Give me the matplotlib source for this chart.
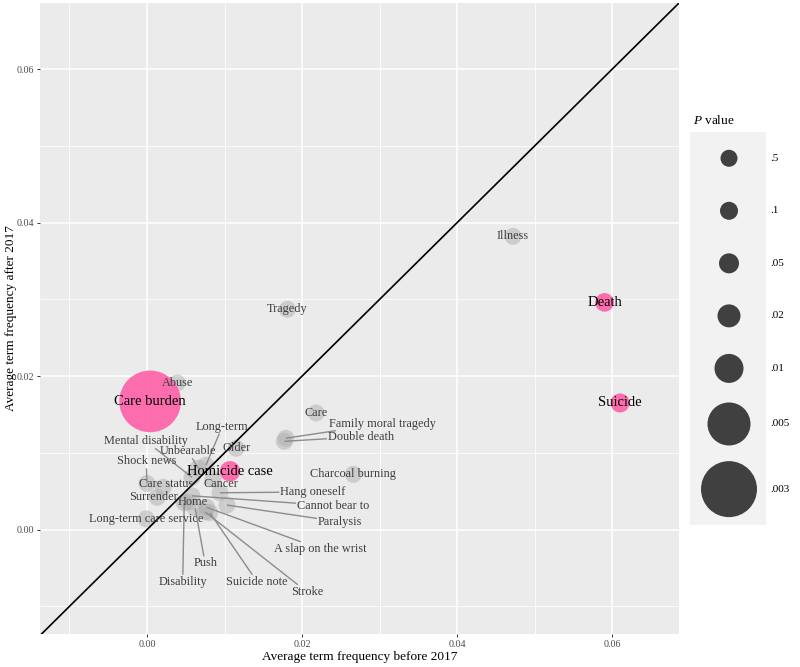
import numpy as np
import matplotlib
matplotlib.use("Agg")
import matplotlib.pyplot as plt

plt.rcParams['font.family'] = ['Liberation Serif', 'DejaVu Serif']
plt.rcParams['mathtext.fontset'] = 'custom'
plt.rcParams['mathtext.it'] = 'Liberation Serif:italic'
plt.rcParams['mathtext.rm'] = 'Liberation Serif'

# term, frequency before 2017, frequency after 2017, p value
terms = [
    "Care burden", "Abuse", "Illness", "Death", "Suicide", "Tragedy", "Care",
    "Family moral tragedy", "Double death", "Charcoal burning", "Homicide case",
    "Older", "Long-term", "Unbearable", "Mental disability", "Cancer",
    "Hang oneself", "Shock news", "Care status", "Surrender", "Home",
    "Cannot bear to", "Paralysis", "A slap on the wrist", "Stroke",
    "Suicide note", "Push", "Disability", "Long-term care service",
]
freq_before = [
    0.0004, 0.0039, 0.0472, 0.0590, 0.0610, 0.0181, 0.0218,
    0.0179, 0.0177, 0.0266, 0.0107,
    0.0115, 0.0076, 0.0066, 0.0058, 0.0085,
    0.0094, 0.0000, 0.0021, 0.0013, 0.0053,
    0.0058, 0.0103, 0.0077, 0.0075,
    0.0081, 0.0062, 0.0048, -0.0001,
]
freq_after = [
    0.0167, 0.0191, 0.0382, 0.0296, 0.0165, 0.0287, 0.0152,
    0.0119, 0.0115, 0.0072, 0.0076,
    0.0106, 0.0084, 0.0080, 0.0068, 0.0066,
    0.0048, 0.0060, 0.0055, 0.0042, 0.0036,
    0.0044, 0.0032, 0.0029, 0.0023,
    0.0022, 0.0028, 0.0035, 0.0014,
]
p_values = [
    0.0024, 0.6, 0.7, 0.08, 0.07, 0.6, 0.6,
    0.5, 0.5, 0.6, 0.045,
    0.6, 0.6, 0.7, 0.6, 0.6,
    0.6, 0.7, 0.6, 0.7, 0.6,
    0.7, 0.6, 0.7, 0.6,
    0.6, 0.7, 0.6, 0.5,
]

# repelled label positions (data coords)
label_pos = {
    "Long-term": (0.0097, 0.0134),
    "Mental disability": (-0.0001, 0.0115),
    "Unbearable": (0.0053, 0.0102),
    "Shock news": (-0.0001, 0.0089),
    "Care status": (0.0025, 0.0059),
    "Surrender": (0.0008, 0.0042),
    "Home": (0.0059, 0.0036),
    "Cancer": (0.0095, 0.0059),
    "Hang oneself": (0.0214, 0.0049),
    "Cannot bear to": (0.0240, 0.0031),
    "Paralysis": (0.0249, 0.0010),
    "A slap on the wrist": (0.0223, -0.0025),
    "Stroke": (0.0206, -0.0081),
    "Suicide note": (0.0142, -0.0068),
    "Push": (0.0075, -0.0044),
    "Disability": (0.0046, -0.0068),
    "Family moral tragedy": (0.0303, 0.0138),
    "Double death": (0.0276, 0.0121),
}

legend_breaks = [0.5, 0.1, 0.05, 0.02, 0.01, 0.005, 0.003]
legend_labels = [".5", ".1", ".05", ".02", ".01", ".005", ".003"]

# size scale: p value -> diameter in pixels
scale_p = [0.003, 0.005, 0.01, 0.02, 0.05, 0.1, 0.5]
scale_d = [56, 43, 29, 23, 20, 18, 17]


def p_to_diam(p):
    lp = np.log10(np.asarray(p, dtype=float))
    xs = np.log10(scale_p)
    d = np.interp(lp, xs, scale_d)
    slope = (scale_d[0] - scale_d[1]) / (xs[0] - xs[1])
    return np.where(lp < xs[0], scale_d[0] + slope * (lp - xs[0]), d)


DPI = 100


def diam_to_s(d):
    return (np.asarray(d) * 72.0 / DPI) ** 2


PINK = "#FF5FA8"
GREY_PT = "#AFAFAF"

fig = plt.figure(figsize=(8, 6.67), dpi=DPI)
ax = fig.add_axes([40 / 800, 33 / 667, 639 / 800, 631 / 667])
ax.set_facecolor("#EBEBEB")
for s in ax.spines.values():
    s.set_visible(False)

ax.set_xlim(-0.0138, 0.0686)
ax.set_ylim(-0.0136, 0.0686)
ax.set_xticks([0.0, 0.02, 0.04, 0.06])
ax.set_yticks([0.0, 0.02, 0.04, 0.06])
ax.set_xticks([-0.01, 0.01, 0.03, 0.05], minor=True)
ax.set_yticks([-0.01, 0.01, 0.03, 0.05], minor=True)
ax.set_xticklabels(["0.00", "0.02", "0.04", "0.06"])
ax.set_yticklabels(["0.00", "0.02", "0.04", "0.06"])
ax.grid(which="major", color="white", lw=1.1)
ax.grid(which="minor", color="white", lw=0.55)
ax.set_axisbelow(True)
ax.tick_params(which="major", length=2.5, width=0.7, color="#333333",
               labelsize=7.3, labelcolor="#4D4D4D", pad=1.5)
ax.tick_params(which="minor", length=0)

ax.set_xlabel("Average term frequency before 2017", fontsize=9.5, labelpad=2)
ax.set_ylabel("Average term frequency after 2017", fontsize=9.5)
ax.yaxis.set_label_coords(-0.036, 0.5)

fb = np.array(freq_before)
fa = np.array(freq_after)
pv = np.array(p_values)
sig = pv < 0.1
sizes = diam_to_s(p_to_diam(pv))

ax.scatter(fb[~sig], fa[~sig], s=sizes[~sig], color=GREY_PT, alpha=0.5,
           linewidths=0, zorder=2)
ax.scatter(fb[sig], fa[sig], s=sizes[sig], color=PINK, alpha=0.9,
           linewidths=0, zorder=2)

ax.axline((0, 0), slope=1, color="black", lw=1.2, zorder=3)

texts = []
for i, t in enumerate(terms):
    lx, ly = label_pos.get(t, (fb[i], fa[i]))
    if sig[i]:
        txt = ax.text(lx, ly, t, fontsize=10.5, color="black",
                      ha="center", va="center", zorder=5)
    else:
        txt = ax.text(lx, ly, t, fontsize=8.8, color="#3D3D3D",
                      ha="center", va="center", zorder=5)
    texts.append((i, t, txt))

# connecting segments for moved labels, clipped at the label box
fig.canvas.draw()
renderer = fig.canvas.get_renderer()
inv = ax.transData.inverted()
for i, t, txt in texts:
    if t not in label_pos:
        continue
    pt = ax.transData.transform((fb[i], fa[i]))
    bb = txt.get_window_extent(renderer)
    cx, cy = (bb.x0 + bb.x1) / 2, (bb.y0 + bb.y1) / 2
    hw, hh = bb.width / 2 + 1, bb.height / 2 + 1
    dx, dy = pt[0] - cx, pt[1] - cy
    if abs(dx) <= hw and abs(dy) <= hh:
        continue
    tt = min(hw / abs(dx) if dx else np.inf, hh / abs(dy) if dy else np.inf)
    start = (cx + tt * dx, cy + tt * dy)
    p0 = inv.transform(start)
    ax.plot([p0[0], fb[i]], [p0[1], fa[i]], color="#8C8C8C", lw=1.0,
            zorder=4, solid_capstyle="butt")

# size legend
lax = fig.add_axes([690 / 800, (667 - 525) / 667, 76 / 800, 393 / 667])
lax.set_facecolor("#F2F2F2")
for s in lax.spines.values():
    s.set_visible(False)
lax.set_xticks([])
lax.set_yticks([])
key_d = p_to_diam(legend_breaks)
key_h = np.maximum(key_d + 15, 52)
total = key_h.sum()
lax.set_xlim(0, 76)
lax.set_ylim(total, 0)
centers = np.cumsum(key_h) - key_h / 2
lax.scatter(np.full(len(centers), 39), centers, s=diam_to_s(key_d),
            color="#404040", linewidths=0, clip_on=False)
for c, lab in zip(centers, legend_labels):
    lax.text(80, c, lab, fontsize=8, color="black", ha="left", va="center",
             clip_on=False)
fig.text(693 / 800, 1 - 120 / 667, "$P$ value", fontsize=9.5,
         ha="left", va="center")

fig.savefig("out.png", dpi=DPI)
